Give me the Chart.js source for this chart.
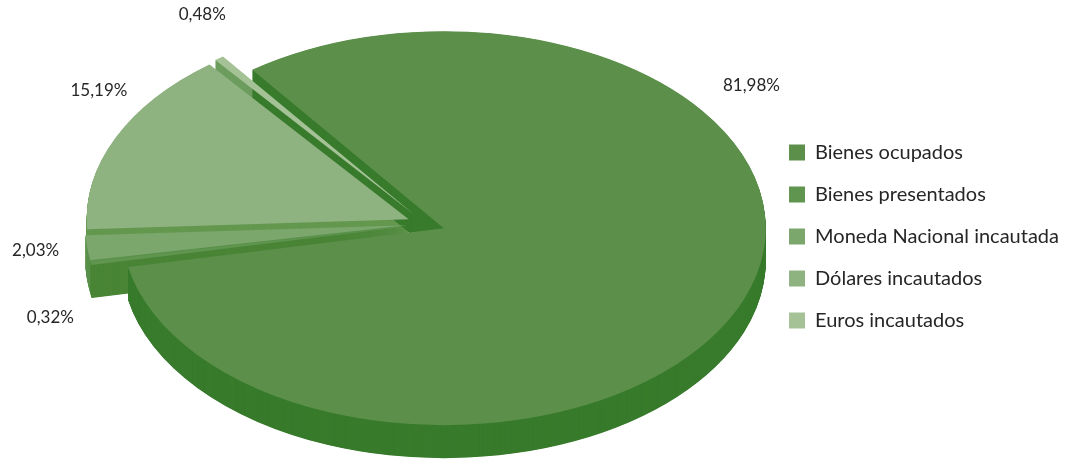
<!DOCTYPE html>
<html><head><meta charset="utf-8">
<script src="https://cdn.jsdelivr.net/npm/chart.js@4.4.1/dist/chart.umd.min.js"></script>
<style>html,body{margin:0;padding:0;background:#fff}#wrap{width:1069px;height:461px;position:relative}</style>
</head><body><div id="wrap"><canvas id="c"></canvas></div>
<script>
// ---- data ----
const categories = ['Bienes ocupados', 'Bienes presentados', 'Moneda Nacional incautada', 'Dólares incautados', 'Euros incautados'];
const shares = [81.98, 0.32, 2.03, 15.19, 0.48];
const valueLabels = ['81,98%', '0,32%', '2,03%', '15,19%', '0,48%'];

// ---- styles ----
const topColors = ['#5b8f4a', '#5f954f', '#7ba66c', '#8fb281', '#a4c296'];
const sideColors = ['#387b2c', '#4a8536', '#5a914b', '#64984f', '#6c9d5e'];
const GEO = {cx: 426, cy: 224, rx: 322, ry: 197, explode: 19, depth: 33};
const LABEL = {shift: [-55.8, -11.4, 0.2, 9.2, 4.2], radius: [1.23, 1.26, 1.22, 1.22, 1.27]};
const sideOrder = [4, 3, 2, 1, 0];

const pie3d = {
  id: 'pie3d',
  beforeDatasetsDraw(chart) {
    const arcs = chart.getDatasetMeta(0).data;
    if (!arcs.length) return false;
    const ctx = chart.ctx;
    const a0 = arcs[0];
    const R = a0.outerRadius, x0 = a0.x, y0 = a0.y;
    const sx = GEO.rx / R, sy = GEO.ry / R, k = GEO.ry / GEO.rx;
    const offs = arcs.map(a => {
      const m = (a.startAngle + a.endAngle) / 2;
      return [GEO.explode * Math.cos(m), GEO.explode * k * Math.sin(m)];
    });
    function drawArc(i, dy, color) {
      const a = arcs[i];
      ctx.save();
      ctx.translate(GEO.cx + offs[i][0], GEO.cy + offs[i][1] + dy);
      ctx.scale(sx, sy);
      ctx.translate(-x0, -y0);
      const el = Object.create(a);
      el.options = Object.assign({}, a.options, {backgroundColor: color, borderWidth: 0, offset: 0});
      a.draw.call(el, ctx);
      ctx.restore();
    }
    for (const i of sideOrder) for (let d = GEO.depth; d >= 0.5; d -= 0.5) drawArc(i, d, sideColors[i]);
    for (let i = 0; i < arcs.length; i++) drawArc(i, 0, topColors[i]);
    ctx.save();
    ctx.fillStyle = '#262626';
    ctx.font = '17px Lato';
    ctx.textAlign = 'center';
    ctx.textBaseline = 'middle';
    arcs.forEach((a, i) => {
      const m = (a.startAngle + a.endAngle) / 2 + LABEL.shift[i] * Math.PI / 180;
      const r = LABEL.radius[i];
      ctx.fillText(valueLabels[i], GEO.cx + GEO.rx * r * Math.cos(m), GEO.cy + GEO.ry * r * Math.sin(m));
    });
    ctx.restore();
    return false;
  }
};

new Chart(document.getElementById('c'), {
  type: 'pie',
  data: {
    labels: categories,
    datasets: [{data: shares, backgroundColor: topColors, borderWidth: 0, clip: false}]
  },
  options: {
    responsive: true,
    maintainAspectRatio: false,
    animation: false,
    events: [],
    rotation: -36.5,
    layout: {padding: {right: 0, top: 12}},
    plugins: {
      tooltip: {enabled: false},
      legend: {
        position: 'right',
        labels: {boxWidth: 16, boxHeight: 16, padding: 22, color: '#262626', font: {family: 'Lato', size: 20}}
      }
    }
  },
  plugins: [pie3d]
});
</script></body></html>
